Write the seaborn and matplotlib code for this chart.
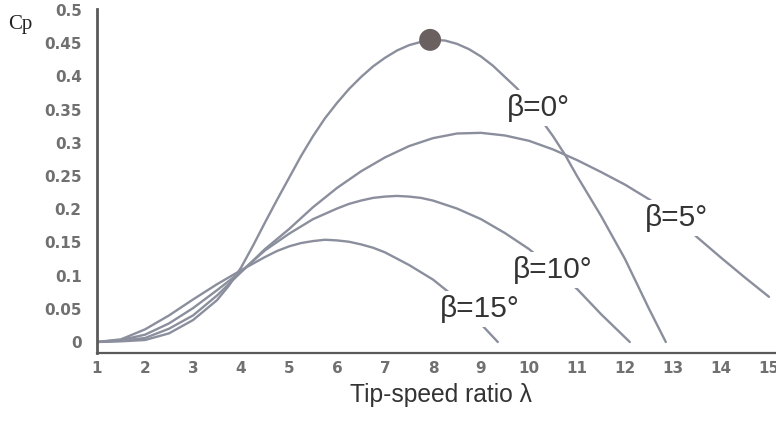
import matplotlib
matplotlib.use("Agg")
import matplotlib.pyplot as plt
import seaborn as sns
import pandas as pd

# values
lam_0 = [1, 1.5, 2, 2.5, 3, 3.5, 3.75, 4, 4.25, 4.5, 4.75, 5, 5.25, 5.5, 5.75, 6,
         6.25, 6.5, 6.75, 7, 7.25, 7.5, 7.75, 8, 8.25, 8.5, 8.75, 9, 9.25, 9.5,
         9.75, 10, 10.25, 10.5, 10.75, 11, 11.5, 12, 12.5, 12.85]
cp_0 = [0, 0.001, 0.003, 0.013, 0.033, 0.063, 0.085, 0.112, 0.145, 0.180, 0.214,
        0.247, 0.280, 0.310, 0.337, 0.360, 0.381, 0.399, 0.415, 0.428, 0.439,
        0.447, 0.452, 0.455, 0.454, 0.449, 0.441, 0.430, 0.416, 0.399, 0.382,
        0.360, 0.335, 0.310, 0.282, 0.250, 0.190, 0.125, 0.050, 0.0]

lam_5 = [1, 1.5, 2, 2.5, 3, 3.5, 4, 4.5, 5, 5.5, 6, 6.5, 7, 7.5, 8, 8.5, 9, 9.5,
         10, 10.5, 11, 11.5, 12, 12.5, 13, 13.5, 14, 14.5, 15]
cp_5 = [0, 0.002, 0.006, 0.020, 0.040, 0.070, 0.105, 0.140, 0.170, 0.203, 0.232,
        0.257, 0.278, 0.295, 0.307, 0.314, 0.315, 0.311, 0.303, 0.290, 0.274,
        0.256, 0.237, 0.215, 0.190, 0.158, 0.127, 0.097, 0.068]

lam_10 = [1, 1.5, 2, 2.5, 3, 3.5, 4, 4.5, 5, 5.5, 6, 6.25, 6.5, 6.75, 7, 7.25,
          7.5, 7.75, 8, 8.5, 9, 9.5, 10, 10.5, 11, 11.5, 12.1]
cp_10 = [0, 0.003, 0.011, 0.028, 0.051, 0.078, 0.106, 0.138, 0.163, 0.185, 0.201,
         0.208, 0.213, 0.217, 0.219, 0.220, 0.219, 0.217, 0.213, 0.201, 0.185,
         0.164, 0.140, 0.110, 0.080, 0.042, 0.0]

lam_15 = [1, 1.5, 2, 2.5, 3, 3.5, 4, 4.5, 4.75, 5, 5.25, 5.5, 5.75, 6, 6.25, 6.5,
          6.75, 7, 7.5, 8, 8.5, 9, 9.35]
cp_15 = [0, 0.004, 0.019, 0.040, 0.064, 0.087, 0.108, 0.128, 0.137, 0.144, 0.149,
         0.152, 0.154, 0.153, 0.151, 0.147, 0.142, 0.135, 0.116, 0.094, 0.065,
         0.027, 0.0]

peak_lam = [7.94]
peak_cp = [0.455]

curve_names = ["β=0°", "β=5°", "β=10°", "β=15°"]
label_lam = [10.2, 13.08, 10.5, 8.98]
label_cp = [0.352, 0.187, 0.108, 0.050]

x_ticks = list(range(1, 16))
y_ticks = [0, 0.05, 0.1, 0.15, 0.2, 0.25, 0.3, 0.35, 0.4, 0.45, 0.5]
y_tick_labels = ["0", "0.05", "0.1", "0.15", "0.2", "0.25", "0.3", "0.35", "0.4", "0.45", "0.5"]

frames = []
for name, lam, cp in zip(curve_names, [lam_0, lam_5, lam_10, lam_15], [cp_0, cp_5, cp_10, cp_15]):
    frames.append(pd.DataFrame({"lam": lam, "cp": cp, "beta": name}))
df = pd.concat(frames, ignore_index=True)

sns.set_theme(style="white")
plt.rcParams["font.family"] = ["Liberation Sans", "DejaVu Sans"]

line_col = "#8b8f9d"
axis_col = "#5a5a5a"

fig = plt.figure(figsize=(7.76, 4.23), dpi=100)
ax = fig.add_axes([97 / 776, 1 - 353 / 423, 679 / 776, 344 / 423])

sns.lineplot(data=df, x="lam", y="cp", hue="beta", units="beta", estimator=None,
             palette=[line_col] * 4, linewidth=1.7, legend=False, sort=False, ax=ax)
sns.scatterplot(x=peak_lam, y=peak_cp, s=250, color="#6b6060", edgecolor="none",
                zorder=5, ax=ax)

for name, lx, ly in zip(curve_names, label_lam, label_cp):
    ax.text(lx, ly, name, fontsize=21.5, color="#333333", ha="center", va="center",
            zorder=6, bbox=dict(facecolor="white", edgecolor="none", pad=3))

ax.set_xlim(1, 1 + 679 / 48)
ax.set_ylim((342 - 353) / 664, (342 - 9) / 664)

for side in ["top", "right"]:
    ax.spines[side].set_visible(False)
for side in ["left", "bottom"]:
    ax.spines[side].set_color(axis_col)
ax.spines["left"].set_linewidth(2)
ax.spines["bottom"].set_linewidth(1.6)

ax.set_xticks(x_ticks)
ax.set_xticklabels([str(t) for t in x_ticks])
ax.set_yticks(y_ticks)
ax.set_yticklabels(y_tick_labels)
ax.tick_params(axis="x", direction="in", length=5, width=1.5, color=axis_col,
               labelsize=11, labelcolor="#707070", pad=6)
ax.tick_params(axis="y", direction="out", length=8, width=1.5, color=axis_col,
               labelsize=11, labelcolor="#707070", pad=3)
for lab in ax.get_xticklabels() + ax.get_yticklabels():
    lab.set_fontfamily("DejaVu Sans")
    lab.set_fontweight("bold")

ax.set_xlabel("")
ax.set_ylabel("")
fig.text(441 / 776, 1 - 395 / 423, "Tip-speed ratio λ", fontsize=17.7, color="#333333",
         ha="center", va="center")
fig.text(8 / 776, 1 - 24 / 423, "Cp", fontsize=15, color="#222222", ha="left", va="center",
         family=["Liberation Serif", "DejaVu Serif"])

fig.savefig("out.png", dpi=100, facecolor="white")
